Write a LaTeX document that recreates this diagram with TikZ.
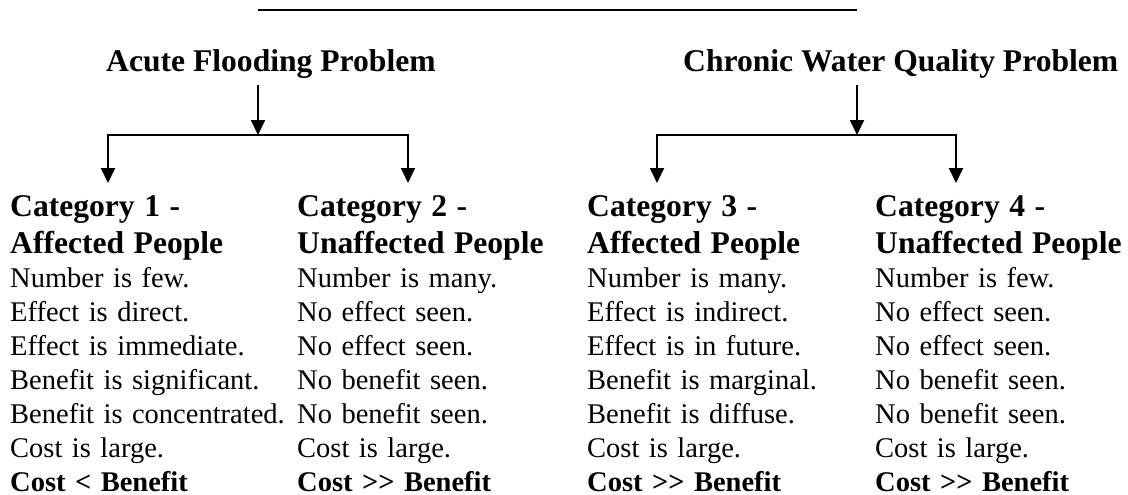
\documentclass[tikz,border=0pt]{standalone}
\usepackage{fontspec}
\setmainfont{Liberation Serif}
\usetikzlibrary{arrows.meta}

\tikzset{
  arr/.style={-{Triangle[width=14pt,length=15pt]}, line width=2pt},
  prob/.style={inner sep=0pt, anchor=base west, font=\fontsize{31.6}{37}\selectfont\bfseries},
  catcol/.style={text width=285pt, align=left, inner sep=0pt, anchor=base west, font=\fontsize{28.5}{34}\selectfont},
}
\newcommand{\cathead}[2]{{\fontsize{31.6}{37}\selectfont\bfseries #1\\ #2\par}}

\begin{document}
\begin{tikzpicture}[x=1pt, y=-1pt]
  \useasboundingbox (0,0) rectangle (1128,495);

  % problems
  \node[prob] (acute) at (106,72) {Acute Flooding Problem};
  \node[prob] (chronic) at (683,72) {Chronic Water Quality Problem};

  % categories
  \node[catcol] (cat1) at (10,216) {\cathead{Category 1 -}{Affected People}
    Number is few.\\ Effect is direct.\\ Effect is immediate.\\ Benefit is significant.\\
    Benefit is concentrated.\\ Cost is large.\\ \textbf{Cost < Benefit}};
  \node[catcol] (cat2) at (297,216) {\cathead{Category 2 -}{Unaffected People}
    Number is many.\\ No effect seen.\\ No effect seen.\\ No benefit seen.\\
    No benefit seen.\\ Cost is large.\\ \textbf{Cost >{}> Benefit}};
  \node[catcol] (cat3) at (587,216) {\cathead{Category 3 -}{Affected People}
    Number is many.\\ Effect is indirect.\\ Effect is in future.\\ Benefit is marginal.\\
    Benefit is diffuse.\\ Cost is large.\\ \textbf{Cost >{}> Benefit}};
  \node[catcol] (cat4) at (875,216) {\cathead{Category 4 -}{Unaffected People}
    Number is few.\\ No effect seen.\\ No effect seen.\\ No benefit seen.\\
    No benefit seen.\\ Cost is large.\\ \textbf{Cost >{}> Benefit}};

  % forks
  \coordinate (fork1) at (258,135);
  \coordinate (fork2) at (857,135);
  \coordinate (tip1) at (108,183);
  \coordinate (tip2) at (408,183);
  \coordinate (tip3) at (657,183);
  \coordinate (tip4) at (956,183);

  \draw[line width=2pt] (fork1 |- 0,10) -- (fork2 |- 0,10);

  \draw[arr] (fork1 |- 0,85) -- (fork1);
  \draw[arr] (fork1) -| (tip1);
  \draw[arr] (fork1) -| (tip2);
  \draw[arr] (fork2 |- 0,85) -- (fork2);
  \draw[arr] (fork2) -| (tip3);
  \draw[arr] (fork2) -| (tip4);
\end{tikzpicture}
\end{document}
